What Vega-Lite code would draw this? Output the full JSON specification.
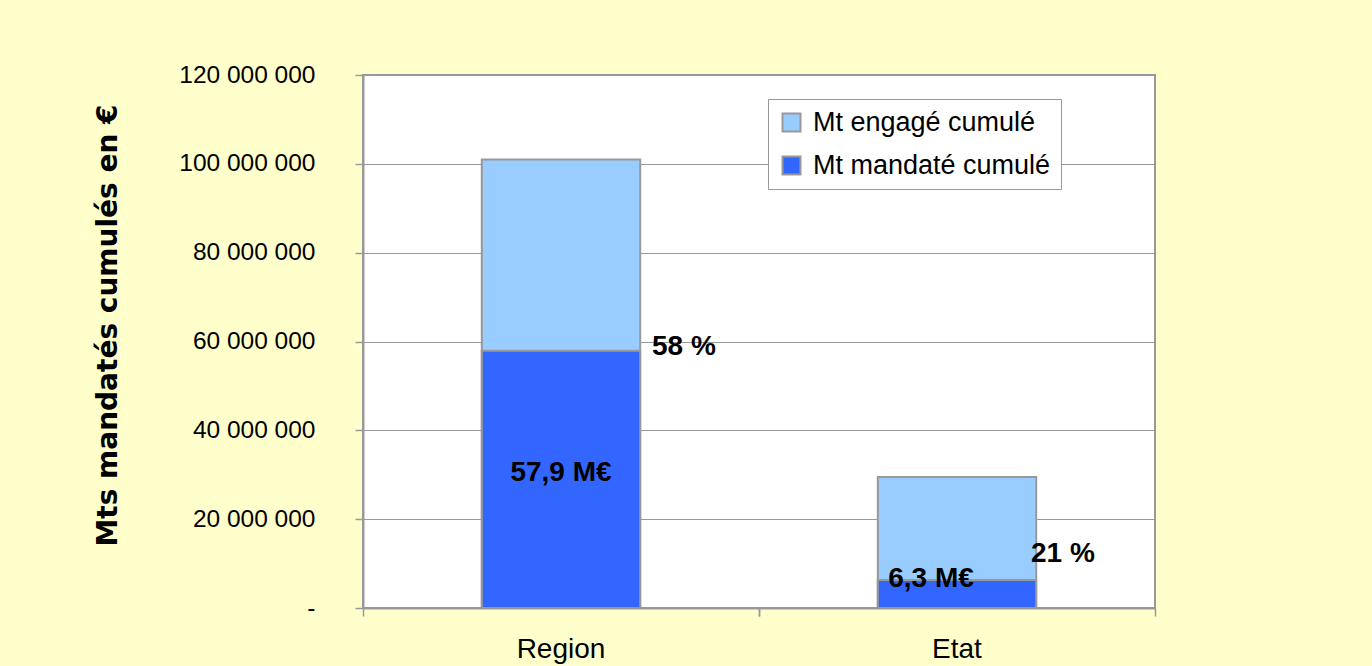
{
  "$schema": "https://vega.github.io/schema/vega-lite/v6.json",
  "width": 792,
  "height": 533,
  "autosize": {"type": "none"},
  "padding": {"left": 363, "top": 75, "right": 217, "bottom": 58},
  "background": "#FFFFCC",
  "config": {
    "locale": {"number": {"decimal": ",", "thousands": " ", "grouping": [3], "currency": ["", " €"]}},
    "view": {"fill": "white", "stroke": "#999999", "strokeWidth": 2},
    "font": "Liberation Sans"
  },
  "datasets": {
    "bars": [
      {"cat": "Region", "serie": "Mt engagé cumulé", "value": 101000000},
      {"cat": "Region", "serie": "Mt mandaté cumulé", "value": 57900000},
      {"cat": "Etat", "serie": "Mt engagé cumulé", "value": 29500000},
      {"cat": "Etat", "serie": "Mt mandaté cumulé", "value": 6300000}
    ],
    "labels": [
      {"cat": "Region", "kind": "pct", "text": "58 %", "anchor": 58800000},
      {"cat": "Region", "kind": "amount", "text": "57,9 M€", "anchor": 30400000},
      {"cat": "Etat", "kind": "amount", "text": "6,3 M€", "anchor": 6530000},
      {"cat": "Etat", "kind": "pct", "text": "21 %", "anchor": 12160000}
    ]
  },
  "resolve": {"axis": {"x": "independent"}},
  "encoding": {
    "x": {"field": "cat", "type": "nominal", "sort": ["Region", "Etat"],
          "scale": {"paddingInner": 0, "paddingOuter": 0}},
    "y": {"type": "quantitative", "scale": {"domain": [0, 120000000], "nice": false}}
  },
  "layer": [
    {
      "data": {"name": "bars"},
      "mark": {"type": "bar", "width": {"band": 0.4}, "stroke": "#999999", "strokeWidth": 2},
      "encoding": {
        "x": {"field": "cat", "type": "nominal", "sort": ["Region", "Etat"],
              "axis": {"orient": "bottom", "title": null, "labelAngle": 0, "labelFontSize": 28, "labelColor": "black",
                       "labelPadding": 27, "ticks": false, "domain": false, "tickSize": 8}},
        "y": {"field": "value", "type": "quantitative", "stack": null,
              "axis": {"title": "Mts mandatés cumulés en €", "titleFont": "DejaVu Sans", "titleFontSize": 28,
                       "titleFontWeight": "bold", "titleColor": "black", "titlePadding": 56, "titleY": 250,
                       "values": [0, 20000000, 40000000, 60000000, 80000000, 100000000, 120000000],
                       "format": ",.0f",
                       "labelExpr": "datum.value == 0 ? '-' : datum.label",
                       "labelFontSize": 24.5, "labelColor": "black", "labelPadding": 40,
                       "tickSize": 8, "tickColor": "#999999", "tickWidth": 1.5,
                       "domainColor": "#999999", "domainWidth": 2,
                       "grid": true, "gridColor": "#999999", "gridWidth": 1}},
        "color": {"field": "serie", "type": "nominal",
                  "scale": {"domain": ["Mt engagé cumulé", "Mt mandaté cumulé"], "range": ["#99CCFF", "#3366FF"]},
                  "legend": {"title": null, "orient": "none", "legendX": 405, "legendY": 24,
                             "symbolType": "square", "symbolSize": 324, "symbolStrokeColor": "#999999",
                             "symbolStrokeWidth": 2, "labelFontSize": 27, "labelColor": "black", "labelLimit": 500,
                             "rowPadding": 15, "padding": 10, "labelOffset": 8,
                             "strokeColor": "#999999", "fillColor": "white"}}
      }
    },
    {
      "data": {"name": "labels"},
      "transform": [{"filter": "datum.cat == 'Region' && datum.kind == 'pct'"}],
      "mark": {"type": "text", "align": "left", "baseline": "middle", "dx": 91, "fontSize": 28, "fontWeight": "bold", "color": "black"},
      "encoding": {
        "x": {"field": "cat", "type": "nominal", "sort": ["Region", "Etat"],
              "axis": {"orient": "bottom", "title": null, "labels": false, "domain": true, "domainColor": "#999999", "domainWidth": 2,
                       "ticks": true, "tickSize": 8, "tickColor": "#999999", "tickWidth": 1.5, "bandPosition": 0}},
        "y": {"field": "anchor", "type": "quantitative"},
        "text": {"field": "text"}
      }
    },
    {
      "data": {"name": "labels"},
      "transform": [{"filter": "datum.cat == 'Region' && datum.kind == 'amount'"}],
      "mark": {"type": "text", "align": "center", "baseline": "middle", "dx": 0, "fontSize": 28, "fontWeight": "bold", "color": "black"},
      "encoding": {
        "x": {"field": "cat", "type": "nominal", "sort": ["Region", "Etat"],
              "axis": {"orient": "bottom", "title": null, "labels": false, "domain": false,
                       "ticks": true, "tickSize": 8, "tickColor": "#999999", "tickWidth": 1.5, "bandPosition": 1}},
        "y": {"field": "anchor", "type": "quantitative"},
        "text": {"field": "text"}
      }
    },
    {
      "data": {"name": "labels"},
      "transform": [{"filter": "datum.cat == 'Etat' && datum.kind == 'amount'"}],
      "mark": {"type": "text", "align": "center", "baseline": "middle", "dx": -26, "fontSize": 28, "fontWeight": "bold", "color": "black"},
      "encoding": {
        "x": {"field": "cat", "type": "nominal", "sort": ["Region", "Etat"], "axis": null},
        "y": {"field": "anchor", "type": "quantitative"},
        "text": {"field": "text"}
      }
    },
    {
      "data": {"name": "labels"},
      "transform": [{"filter": "datum.cat == 'Etat' && datum.kind == 'pct'"}],
      "mark": {"type": "text", "align": "left", "baseline": "middle", "dx": 74, "fontSize": 28, "fontWeight": "bold", "color": "black"},
      "encoding": {
        "x": {"field": "cat", "type": "nominal", "sort": ["Region", "Etat"], "axis": null},
        "y": {"field": "anchor", "type": "quantitative"},
        "text": {"field": "text"}
      }
    }
  ]
}
